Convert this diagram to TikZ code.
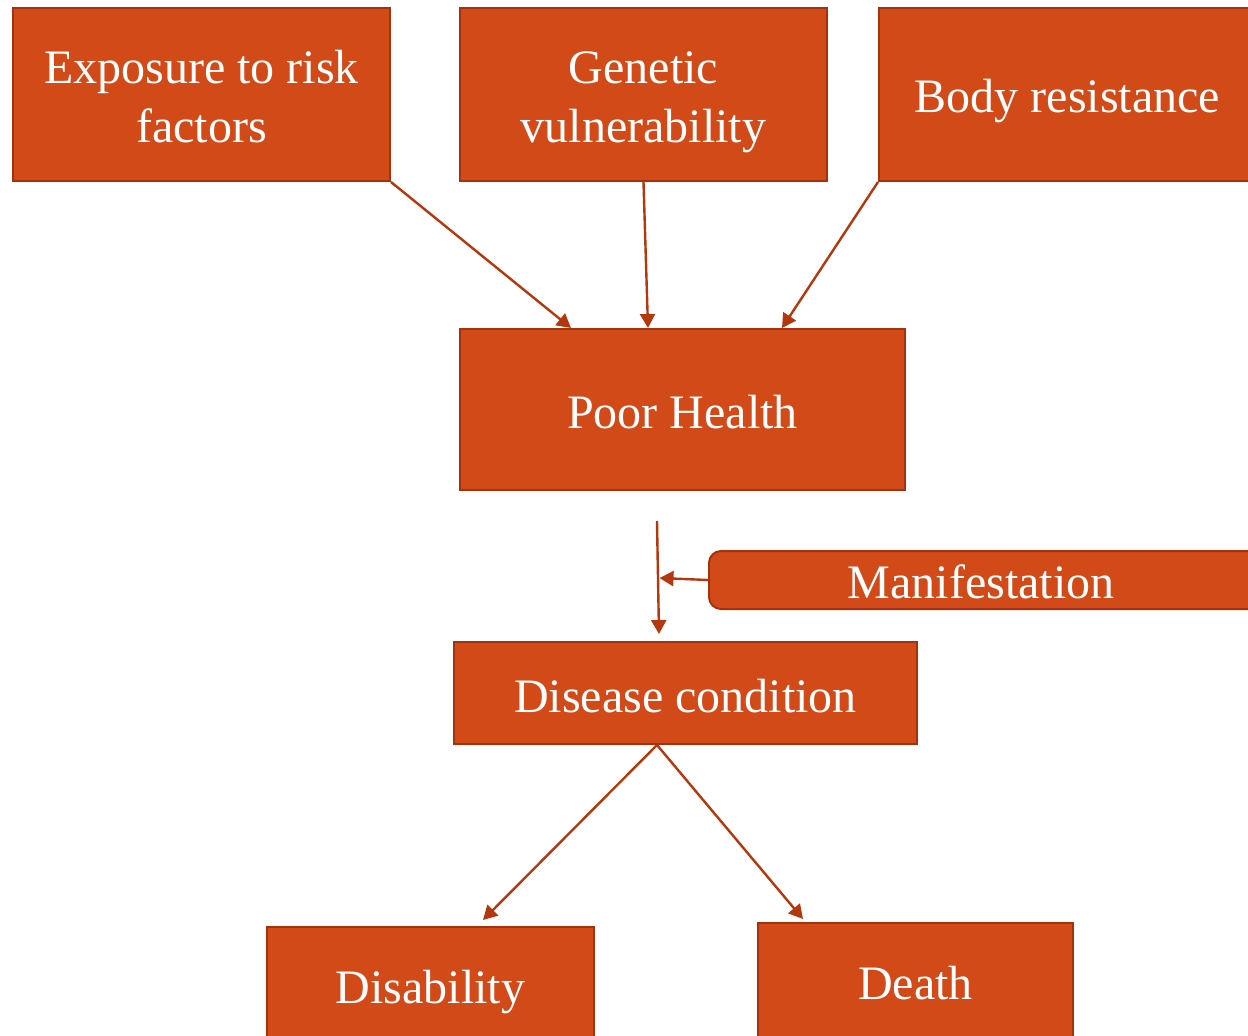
\documentclass[tikz,border=0pt]{standalone}
\usepackage{fontspec}
\setmainfont{Liberation Serif}
\usetikzlibrary{arrows.meta,calc}
\definecolor{boxfill}{HTML}{D24A18}
\definecolor{boxline}{HTML}{A5320E}
\definecolor{arrowcol}{HTML}{B3380E}
\begin{document}
\begin{tikzpicture}[x=0.5pt,y=-0.5pt,
  box/.style={draw=boxline,line width=1pt,fill=boxfill,inner sep=0pt},
  lbl/.style={text=white,align=center,inner sep=0pt,font=\fontsize{24}{29.5}\selectfont},
  link/.style={draw=arrowcol,line width=1.2pt,-{Triangle[length=7pt,width=7.5pt]}}]
\useasboundingbox (0,0) rectangle (1248,1035);
% top row of causes
\node[box,minimum width=188.5pt,minimum height=86.5pt] (exp) at (201.5,94.5) {};
\node[box,minimum width=183.5pt,minimum height=86.5pt] (gen) at (643.5,94.5) {};
\node[box,minimum width=186.5pt,minimum height=86.5pt] (body) at (1065.5,94.5) {};
\node[lbl] (expT) at ($(exp)+(0,2.5)$) {Exposure to risk\\factors};
\node[lbl] (genT) at ($(gen)+(0,8)$) {Genetic\\vulnerability};
\node[lbl] (bodyT) at ($(body)+(2,7)$) {Body resistance};
% central state
\node[box,minimum width=222.5pt,minimum height=80.5pt] (ph) at (682.5,409.5) {};
\node[lbl] (phT) at ($(ph)+(0,3)$) {Poor Health};
\node[box,rounded corners=6pt,minimum width=295.5pt,minimum height=29pt] (man) at (1004.5,580) {};
\node[lbl] (manT) at (981,582) {Manifestation};
\node[box,minimum width=231.5pt,minimum height=51pt] (dis) at (685.5,693) {};
\node[lbl] (disT) at ($(dis)+(0,3)$) {Disease condition};
% outcomes
\node[box,minimum width=163.5pt,minimum height=59pt] (dab) at (430.5,986) {};
\node[lbl] (dabT) at ($(dab)+(0,6)$) {Disability};
\node[box,minimum width=157.5pt,minimum height=60pt] (dth) at (915.5,983) {};
\node[lbl] (dthT) at (dth) {Death};
% connectors
\draw[link] (exp.south east) -- ($(ph.north west)+(112,0)$);
\draw[link] (gen.south) -- ($(ph.north west)+(189,0)$);
\draw[link] (body.south west) -- ($(ph.north west)+(323,0)$);
\coordinate (vtop) at (657,521);
\coordinate (vjoin) at (659.5,578);
\draw[link] (vtop) -- ($(dis.north west)+(206,-7)$);
\draw[link] (man.west) -- (vjoin);
\draw[link] ($(dis.south west)+(204,0)$) -- ($(dab.north west)+(217,-6)$);
\draw[link] ($(dis.south west)+(204,0)$) -- ($(dth.north west)+(46,-3)$);
\end{tikzpicture}
\end{document}
